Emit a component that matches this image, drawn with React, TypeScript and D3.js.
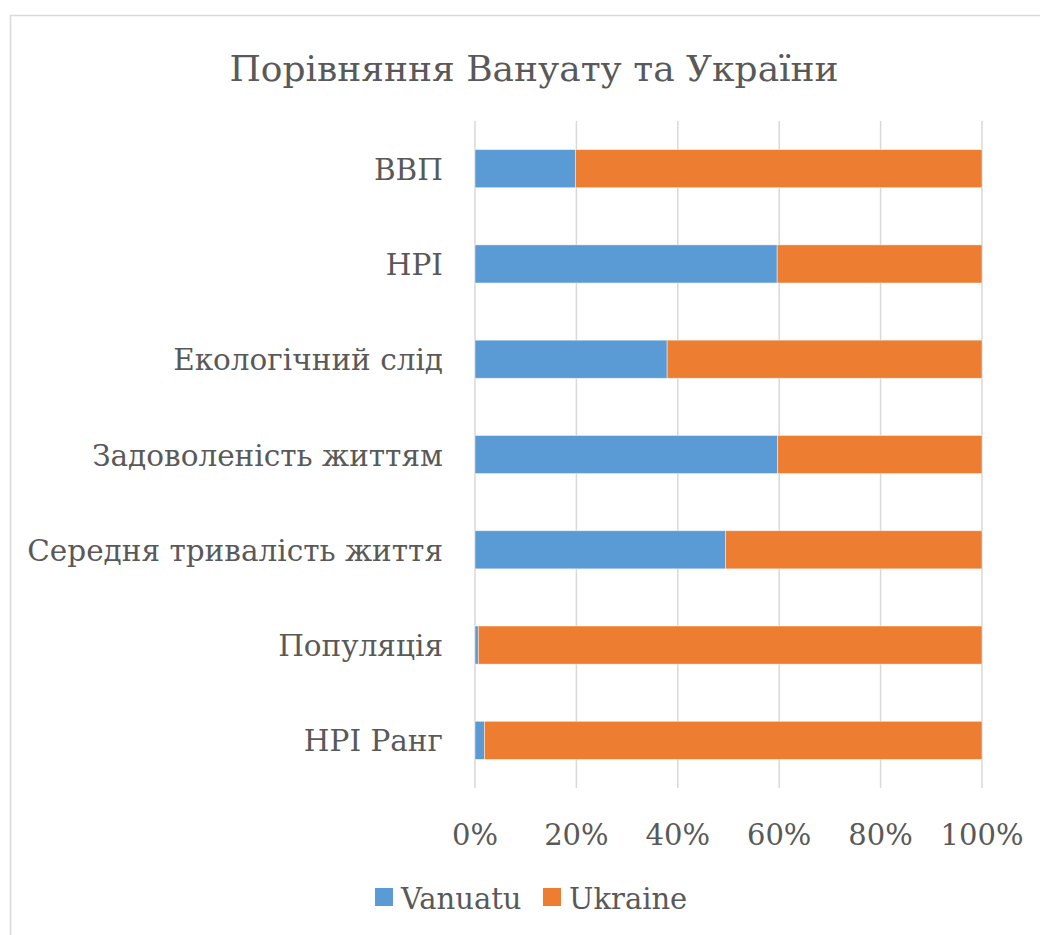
import React, { useEffect, useRef } from "react";
import * as d3 from "d3";

const categories = [
  "ВВП",
  "HPI",
  "Екологічний слід",
  "Задоволеність життям",
  "Середня тривалість життя",
  "Популяція",
  "HPI Ранг",
];
const seriesNames = ["Vanuatu", "Ukraine"];
// share of Vanuatu in percent; Ukraine fills the rest
const vanuatu = [19.8, 59.6, 37.9, 59.7, 49.4, 0.65, 1.85];
const ukraine = vanuatu.map((v) => 100 - v);
const tickValues = [0, 0.2, 0.4, 0.6, 0.8, 1];
const colors = ["#5B9BD5", "#ED7D31"];

const W = 1040;
const H = 935;
const FONT = "DejaVu Serif";

export default function App() {
  const ref = useRef<SVGSVGElement>(null);

  useEffect(() => {
    const svg = d3.select(ref.current);
    svg.selectAll("*").remove();

    const left = 475, right = 982, top = 121, bottom = 788;

    // chart border (only left/top visible in the frame)
    svg.append("rect")
      .attr("x", 10.5).attr("y", 15.5)
      .attr("width", W + 20).attr("height", H + 20)
      .attr("fill", "#fff")
      .attr("stroke", "#d9d9d9").attr("stroke-width", 1.5);

    const table = categories.map((c, i) => ({ cat: c, Vanuatu: vanuatu[i], Ukraine: ukraine[i] }));
    const stacked = d3.stack<any>().keys(seriesNames).offset(d3.stackOffsetExpand)(table);

    const x = d3.scaleLinear().domain([0, 1]).range([left, right]);
    const y = d3.scaleBand().domain(categories).range([top, bottom]).paddingInner(0.6).paddingOuter(0.3);

    // gridlines
    svg.append("g").selectAll("line")
      .data(tickValues)
      .join("line")
      .attr("x1", (d) => x(d)).attr("x2", (d) => x(d))
      .attr("y1", top).attr("y2", bottom)
      .attr("stroke", "#d9d9d9").attr("stroke-width", 1.5);

    // bars
    stacked.forEach((s, i) => {
      svg.append("g").selectAll("rect")
        .data(s)
        .join("rect")
        .attr("x", (d) => x(d[0]))
        .attr("y", (d: any) => y(d.data.cat)!)
        .attr("width", (d) => x(d[1]) - x(d[0]))
        .attr("height", y.bandwidth())
        .attr("fill", colors[i])
        .attr("stroke", "#fff").attr("stroke-opacity", 0.6).attr("stroke-width", 0.75);
    });

    // category labels
    svg.append("g").selectAll("text")
      .data(categories)
      .join("text")
      .attr("x", left - 32)
      .attr("y", (d) => y(d)! + y.bandwidth() / 2 + 11)
      .attr("text-anchor", "end")
      .style("font-family", FONT).style("font-size", "29.5px")
      .attr("fill", "#595959")
      .text((d) => d);

    // x tick labels
    svg.append("g").selectAll("text")
      .data(tickValues)
      .join("text")
      .attr("x", (d) => x(d))
      .attr("y", 845)
      .attr("text-anchor", "middle")
      .style("font-family", FONT).style("font-size", "29px")
      .attr("fill", "#595959")
      .text((d) => d3.format(".0%")(d));

    // title
    svg.append("text")
      .attr("x", 534).attr("y", 81)
      .attr("text-anchor", "middle")
      .style("font-family", FONT).style("font-size", "36px")
      .attr("fill", "#595959")
      .text("Порівняння Вануату та України");

    // legend
    const legendX = [375, 543];
    seriesNames.forEach((name, i) => {
      svg.append("rect")
        .attr("x", legendX[i]).attr("y", 888)
        .attr("width", 18).attr("height", 18)
        .attr("fill", colors[i]);
      svg.append("text")
        .attr("x", legendX[i] + 26).attr("y", 909)
        .style("font-family", FONT).style("font-size", "29px")
        .attr("fill", "#595959")
        .text(name);
    });
  }, []);

  return (
    <svg ref={ref} width={W} height={H}
      style={{ position: "absolute", left: 0, top: 0, background: "#fff" }} />
  );
}
